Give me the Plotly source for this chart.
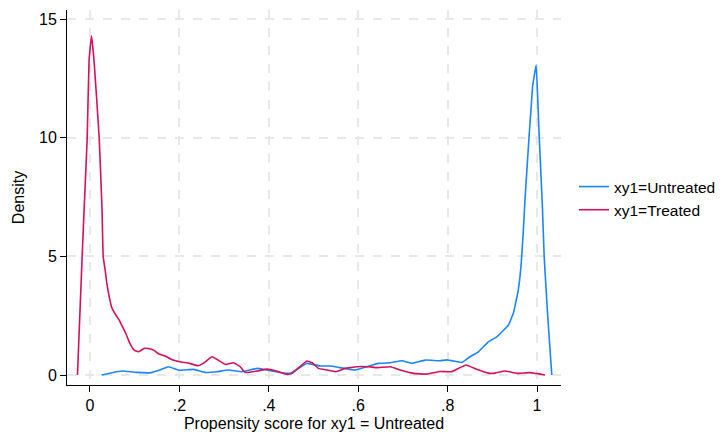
import plotly.graph_objects as go

# Kernel density: xy1 = Untreated (blue)
untreated_x = [0.026, 0.059, 0.074, 0.104, 0.137, 0.156, 0.175, 0.201, 0.232, 0.258,
               0.284, 0.31, 0.34, 0.374, 0.396, 0.426, 0.448, 0.485, 0.515, 0.538,
               0.556, 0.593, 0.619, 0.645, 0.672, 0.698, 0.72, 0.75, 0.783, 0.798,
               0.821, 0.832, 0.85, 0.869, 0.891, 0.91, 0.936, 0.947, 0.958, 0.964,
               0.969, 0.973, 0.982, 0.988, 0.990, 0.998, 1.0016, 1.005, 1.012, 1.016,
               1.024, 1.033]
untreated_y = [0.0, 0.14, 0.17, 0.11, 0.10, 0.21, 0.35, 0.20, 0.24, 0.11,
               0.14, 0.21, 0.14, 0.28, 0.21, 0.11, 0.07, 0.49, 0.38, 0.38,
               0.32, 0.21, 0.35, 0.49, 0.52, 0.60, 0.49, 0.63, 0.60, 0.64,
               0.56, 0.53, 0.77, 0.98, 1.40, 1.61, 2.11, 2.60, 3.58, 4.56,
               5.97, 7.37, 10.0, 11.6, 12.15, 13.06, 11.6, 10.0, 7.1, 4.98,
               2.46, 0.0]

# Kernel density: xy1 = Treated (red)
treated_x = [-0.028, -0.0175, -0.0126, -0.0062, -0.002, 0.0034, 0.009, 0.0206, 0.027,
             0.0295, 0.034, 0.0376, 0.043, 0.048, 0.0555, 0.065, 0.0726, 0.08, 0.089,
             0.0987, 0.1077, 0.1128, 0.1203, 0.13, 0.1426, 0.1524, 0.171, 0.186,
             0.2007, 0.223, 0.2418, 0.253, 0.26, 0.273, 0.303, 0.321, 0.336, 0.347,
             0.374, 0.396, 0.415, 0.44, 0.452, 0.485, 0.497, 0.511, 0.53, 0.549,
             0.571, 0.597, 0.623, 0.642, 0.672, 0.694, 0.724, 0.753, 0.783, 0.809,
             0.841, 0.865, 0.891, 0.906, 0.928, 0.955, 0.984, 1.018]
treated_y = [0.0, 5.0, 7.2, 10.0, 13.27, 14.29, 13.27, 10.0, 6.95,
             4.99, 4.42, 3.86, 3.30, 2.88, 2.60, 2.32, 2.04, 1.76, 1.34,
             1.05, 0.98, 1.02, 1.12, 1.12, 1.05, 0.91, 0.77, 0.63,
             0.56, 0.49, 0.39, 0.49, 0.59, 0.77, 0.45, 0.52, 0.35, 0.11,
             0.17, 0.25, 0.18, 0.03, 0.07, 0.59, 0.52, 0.28, 0.21, 0.14,
             0.28, 0.35, 0.35, 0.31, 0.35, 0.21, 0.07, 0.04, 0.15, 0.14,
             0.42, 0.24, 0.08, 0.08, 0.17, 0.07, 0.10, 0.0]

x_ticks = [0, 0.2, 0.4, 0.6, 0.8, 1]
x_tick_labels = ["0", ".2", ".4", ".6", ".8", "1"]
y_ticks = [0, 5, 10, 15]
y_tick_labels = ["0", "5", "10", "15"]

BLUE = "#1a85ff"
RED = "#d41159"
FONT = "Arial, Liberation Sans, sans-serif"

# the page body has an 8px margin, so the figure is sized/offset to compensate
OFF = 8
W, H = 726 - OFF, 432 - OFF

fig = go.Figure()
fig.add_trace(go.Scatter(x=untreated_x, y=untreated_y, mode="lines",
                         name="xy1=Untreated",
                         line=dict(color=BLUE, width=1.6, shape="spline", smoothing=0.3)))
fig.add_trace(go.Scatter(x=treated_x, y=treated_y, mode="lines",
                         name="xy1=Treated",
                         line=dict(color=RED, width=1.6, shape="spline", smoothing=0.3)))

axis_common = dict(
    showline=True, linecolor="#000000", linewidth=1,
    ticks="outside", ticklen=6, tickcolor="#000000", tickwidth=1,
    showgrid=True, gridcolor="#e8e8e8", gridwidth=1.5, griddash="dash",
    zeroline=False, tickfont=dict(family=FONT, size=16, color="#000000"),
)

fig.update_xaxes(range=[-0.0514, 1.0536], tickvals=x_ticks, ticktext=x_tick_labels,
                 title=dict(text="Propensity score for xy1 = Untreated",
                            font=dict(family=FONT, size=16, color="#000000"), standoff=7),
                 **axis_common)
fig.update_yaxes(range=[-0.42, 15.38], tickvals=y_ticks, ticktext=y_tick_labels,
                 title=dict(text="Density", font=dict(family=FONT, size=16, color="#000000"),
                            standoff=10),
                 **axis_common)

fig.update_layout(
    width=W, height=H,
    margin=dict(l=66.5 - OFF, r=726 - 561, t=10 - OFF, b=432 - 385, autoexpand=False),
    paper_bgcolor="white", plot_bgcolor="white",
    font=dict(family=FONT, size=16, color="#000000"),
    showlegend=True,
    legend=dict(xref="container", yref="container",
                x=(574 - OFF) / W, y=1 - (170 - OFF) / H,
                xanchor="left", yanchor="top", tracegroupgap=0,
                font=dict(family=FONT, size=15.5, color="#000000"),
                bgcolor="rgba(0,0,0,0)", itemwidth=30),
)

fig.write_html("out.html")
